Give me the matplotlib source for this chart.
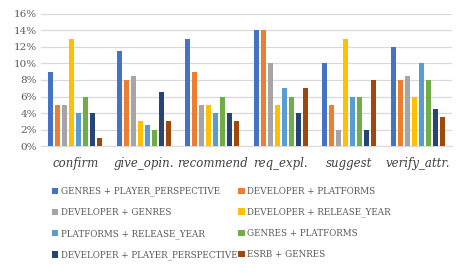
import numpy as np
import matplotlib.pyplot as plt
from matplotlib.ticker import PercentFormatter

categories = ["confirm", "give_opin.", "recommend", "req_expl.", "suggest", "verify_attr."]
series_names = [
    "GENRES + PLAYER_PERSPECTIVE",
    "DEVELOPER + PLATFORMS",
    "DEVELOPER + GENRES",
    "DEVELOPER + RELEASE_YEAR",
    "PLATFORMS + RELEASE_YEAR",
    "GENRES + PLATFORMS",
    "DEVELOPER + PLAYER_PERSPECTIVE",
    "ESRB + GENRES",
]
genres_player = [9, 11.5, 13, 14, 10, 12]
developer_platforms = [5, 8, 9, 14, 5, 8]
developer_genres = [5, 8.5, 5, 10, 2, 8.5]
developer_year = [13, 3, 5, 5, 13, 6]
platforms_year = [4, 2.5, 4, 7, 6, 10]
genres_platforms = [6, 2, 6, 6, 6, 8]
developer_player = [4, 6.5, 4, 4, 2, 4.5]
esrb_genres = [1, 3, 3, 7, 8, 3.5]
series_values = [genres_player, developer_platforms, developer_genres, developer_year,
                 platforms_year, genres_platforms, developer_player, esrb_genres]
colors = ["#4472C4", "#ED7D31", "#A5A5A5", "#FFC000", "#5B9BD5", "#70AD47", "#264478", "#9E480E"]

plt.rcParams["font.family"] = ["DejaVu Serif"]
fig = plt.figure(figsize=(4.66, 2.73), dpi=100)
ax = fig.add_axes([0.088, 0.465, 0.882, 0.484])

x = np.arange(len(categories))
step = 0.102
width = 0.075
handles = []
for i, (name, vals) in enumerate(zip(series_names, series_values)):
    h = ax.bar(x + (i - 3.5) * step, np.array(vals) / 100, width, color=colors[i], label=name, zorder=3)
    handles.append(h)

ax.set_xlim(-0.5, len(categories) - 0.5)
ax.set_ylim(0, 0.16)
ax.set_yticks(np.arange(0, 0.161, 0.02))
ax.yaxis.set_major_formatter(PercentFormatter(1.0, decimals=0))
ax.grid(axis="y", color="#D9D9D9", linewidth=0.9, zorder=0)
for s in ["top", "right", "left"]:
    ax.spines[s].set_visible(False)
ax.spines["bottom"].set_color("#D9D9D9")
ax.tick_params(axis="both", length=0, colors="#595959")
ax.tick_params(axis="y", labelsize=7.5, pad=3)
ax.set_xticks(x)
ax.set_xticklabels(categories, fontsize=8.5, style="italic", color="#404040")
ax.tick_params(axis="x", pad=8)

# legend fills column-wise, so reorder to read row by row like the original
order = [0, 2, 4, 6, 1, 3, 5, 7]
fig.legend(handles=[handles[i] for i in order], loc="upper left", bbox_to_anchor=(0.095, 0.345), ncol=2,
           frameon=False, fontsize=6.3, handlelength=0.7, handleheight=0.7,
           handletextpad=0.3, columnspacing=0.1, labelspacing=1.35, labelcolor="#595959")

plt.savefig("out.png", dpi=100)
